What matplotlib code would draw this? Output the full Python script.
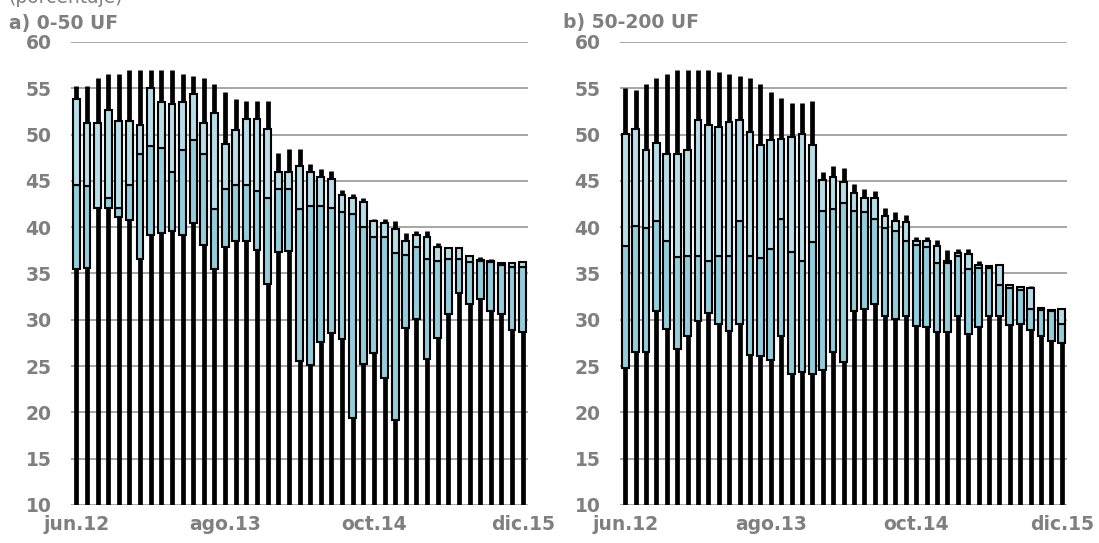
import numpy as np
import matplotlib.pyplot as plt

# monthly distribution, jun.12 .. dic.15 (43 months)
tick_labels = ['jun.12', 'ago.13', 'oct.14', 'dic.15']
tick_pos = [0, 14, 28, 42]

# a) 0-50 UF
hi_a = [55.3, 55.3, 56.1, 56.5, 56.5, 57.0, 57.0, 57.0, 57.0, 57.0, 56.5, 56.3, 56.1,
        55.5, 54.6, 53.8, 53.6, 53.6, 53.6, 48.0, 48.4, 48.4, 46.8, 46.3, 46.1, 44.0,
        43.6, 43.1, 40.9, 40.9, 40.7, 39.4, 39.6, 39.6, 38.3, 37.9, 37.8, 36.9, 36.8,
        36.6, 36.2, 36.2, 36.4]
q3_a = [53.8, 51.2, 51.2, 52.7, 51.5, 51.5, 51.0, 55.0, 53.5, 53.3, 53.5, 54.4, 51.2,
        52.3, 49.0, 50.5, 51.7, 51.7, 50.6, 46.0, 46.0, 46.6, 46.0, 45.4, 45.2, 43.5,
        43.1, 42.7, 40.7, 40.4, 39.8, 38.5, 39.2, 38.9, 37.9, 37.7, 37.7, 36.9, 36.5,
        36.4, 36.1, 36.1, 36.2]
med_a = [44.6, 44.4, 42.1, 43.1, 42.1, 44.6, 47.9, 48.8, 48.5, 46.0, 48.3, 49.4, 47.9,
         42.0, 44.1, 44.6, 44.6, 43.9, 43.1, 44.1, 44.1, 42.0, 42.3, 42.3, 42.1, 41.6,
         41.4, 40.0, 38.9, 38.9, 37.2, 37.0, 37.9, 36.6, 36.4, 36.6, 36.6, 36.2, 36.3,
         36.2, 35.9, 35.7, 35.7]
q1_a = [35.5, 35.6, 42.1, 42.1, 41.1, 40.8, 36.6, 39.2, 39.4, 39.6, 39.2, 40.5, 38.1,
        35.5, 37.9, 38.5, 38.5, 37.5, 33.9, 37.3, 37.4, 25.5, 25.1, 27.6, 28.6, 27.9,
        19.4, 25.2, 26.4, 23.7, 19.2, 29.1, 30.1, 25.8, 28.0, 30.6, 32.9, 31.7, 32.3,
        31.0, 30.6, 28.9, 28.7]

# b) 50-200 UF
hi_b = [55.0, 54.8, 55.5, 56.1, 56.5, 57.0, 57.0, 57.0, 57.0, 56.8, 56.5, 56.3, 56.1,
        55.5, 54.6, 54.0, 53.4, 53.4, 53.6, 46.0, 46.6, 46.4, 44.7, 44.1, 43.9, 42.1,
        41.6, 41.3, 38.9, 38.9, 38.6, 37.5, 37.6, 37.6, 36.4, 35.9, 35.9, 33.8, 33.7,
        33.6, 31.3, 31.2, 31.3]
q3_b = [50.1, 50.6, 48.3, 49.1, 47.9, 47.9, 48.3, 51.6, 51.0, 50.8, 51.4, 51.6, 50.3,
        48.9, 49.4, 49.5, 49.7, 50.1, 48.9, 45.1, 45.4, 44.9, 43.7, 43.2, 43.2, 41.2,
        40.7, 40.6, 38.5, 38.5, 38.0, 36.4, 37.2, 37.1, 35.9, 35.8, 35.9, 33.8, 33.5,
        33.4, 31.3, 31.1, 31.2]
med_b = [38.0, 40.1, 39.9, 40.7, 38.5, 36.8, 36.9, 36.9, 36.4, 36.9, 36.9, 40.7, 36.9,
         36.7, 37.6, 40.9, 37.3, 36.3, 38.4, 41.8, 42.0, 42.6, 41.8, 41.6, 40.9, 39.9,
         39.6, 38.5, 38.1, 37.9, 36.1, 36.1, 36.9, 35.5, 35.6, 35.6, 33.8, 33.4, 33.2,
         31.2, 31.1, 30.9, 29.5]
q1_b = [24.8, 26.5, 26.5, 30.9, 29.0, 26.8, 28.3, 29.9, 30.7, 29.5, 28.8, 29.5, 26.2,
        26.1, 25.7, 28.2, 24.2, 24.4, 24.2, 24.6, 26.5, 25.4, 30.9, 31.2, 31.7, 30.4,
        30.1, 30.4, 29.3, 29.2, 28.7, 28.7, 30.4, 28.5, 29.2, 30.4, 30.4, 29.4, 29.6,
        28.9, 28.3, 27.7, 27.5]

GREY = '#7f7f7f'
LIGHT = '#b7dee8'
DARK = '#92cddc'
FS = 13.5


def draw_panel(ax, hi, q3, med, q1):
    x = np.arange(len(hi))
    ax.vlines(x, 0, hi, color='black', lw=3.4, zorder=2)
    ax.bar(x, np.subtract(med, q1), bottom=q1, width=0.64, color=DARK,
           edgecolor='black', lw=1.5, zorder=3)
    ax.bar(x, np.subtract(q3, med), bottom=med, width=0.64, color=LIGHT,
           edgecolor='black', lw=1.5, zorder=3)

    ax.set_xlim(-0.5, len(hi) - 0.5)
    ax.set_ylim(10, 60)
    ax.set_yticks(range(10, 61, 5))
    ax.set_xticks(tick_pos)
    ax.set_xticklabels(tick_labels)
    ax.grid(axis='y', color='#a6a6a6', lw=1.4, zorder=0)
    ax.set_axisbelow(True)
    for s in ax.spines.values():
        s.set_visible(False)
    ax.tick_params(axis='y', length=0, pad=14, labelsize=FS, labelcolor=GREY)
    ax.tick_params(axis='x', length=0, pad=7, labelsize=FS, labelcolor=GREY)
    for lbl in ax.get_xticklabels() + ax.get_yticklabels():
        lbl.set_fontweight('bold')


fig = plt.figure(figsize=(10.99, 5.43), dpi=100)
ax_a = fig.add_axes([71 / 1099, 1 - 505 / 543, 457 / 1099, 463 / 543])
ax_b = fig.add_axes([620 / 1099, 1 - 505 / 543, 447 / 1099, 463 / 543])

draw_panel(ax_a, hi_a, q3_a, med_a, q1_a)
draw_panel(ax_b, hi_b, q3_b, med_b, q1_b)

fig.text(9 / 1099, 1 - 29 / 543, 'a) 0-50 UF', fontsize=FS, fontweight='bold',
         color=GREY, ha='left', va='baseline')
fig.text(563 / 1099, 1 - 28 / 543, 'b) 50-200 UF', fontsize=FS, fontweight='bold',
         color=GREY, ha='left', va='baseline')
fig.text(8 / 1099, 1 - 3 / 543, '(porcentaje)', fontsize=FS, color=GREY,
         ha='left', va='baseline')

fig.savefig('out.png', dpi=100)
